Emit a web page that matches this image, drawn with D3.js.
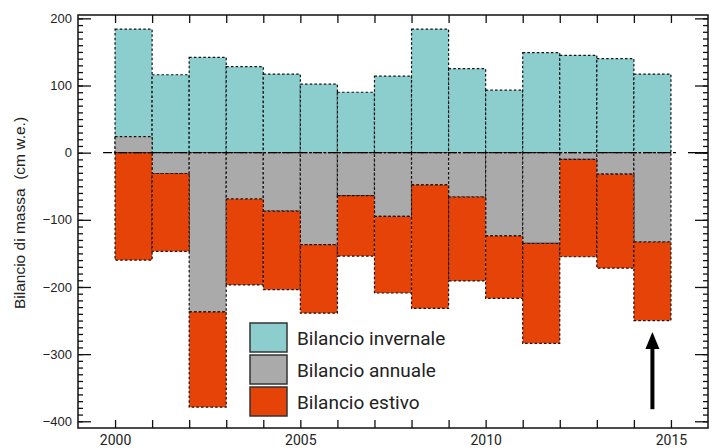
<!DOCTYPE html>
<html>
<head>
<meta charset="utf-8">
<script src="https://cdn.jsdelivr.net/npm/d3@7"></script>
<style>
  body { margin: 0; background: #fff; }
  svg { display: block; }
</style>
</head>
<body>
<div id="chart"></div>
<script>
// hydrological years (bar spans year -> year + 1)
const years = [2000, 2001, 2002, 2003, 2004, 2005, 2006, 2007, 2008, 2009, 2010, 2011, 2012, 2013, 2014];
// mass balance, cm w.e.
const winter = [184, 116, 142, 128, 117, 102, 90, 114, 184, 125, 93, 149, 145, 140, 117];
const annual = [24, -31, -237, -69, -87, -137, -64, -95, -48, -66, -124, -135, -10, -32, -133];
const summer = [-160, -147, -379, -197, -204, -239, -154, -209, -232, -191, -217, -284, -155, -172, -250];

const seriesNames = ["Bilancio invernale", "Bilancio annuale", "Bilancio estivo"];
const seriesColors = ["#8ccdce", "#aaaaaa", "#e64309"];
const xLabels = [2000, 2005, 2010, 2015];
const yLabels = [-400, -300, -200, -100, 0, 100, 200];
const arrowYear = 2014.5;
const arrowFrom = -382;
const arrowTo = -267;

const dims = {
  width: 716,
  height: 448,
  margin: { top: 15, right: 8, bottom: 20, left: 78 },
};
dims.boundedWidth = dims.width - dims.margin.left - dims.margin.right;
dims.boundedHeight = dims.height - dims.margin.top - dims.margin.bottom;

const svg = d3.select("#chart").append("svg")
  .attr("width", dims.width)
  .attr("height", dims.height);

const bounds = svg.append("g")
  .attr("transform", `translate(${dims.margin.left},${dims.margin.top})`);

const xScale = d3.scaleLinear()
  .domain([1999, 2016])
  .range([0, dims.boundedWidth]);

const yScale = d3.scaleLinear()
  .domain([-410, 205])
  .range([dims.boundedHeight, 0]);

const data = years.map((y, i) => ({ year: y, w: winter[i], a: annual[i], s: summer[i] }));

const dash = "2.5,2.2";
function drawBars(cls, color, top, bottom) {
  bounds.append("g").attr("class", cls)
    .selectAll("rect").data(data).join("rect")
    .attr("x", d => xScale(d.year))
    .attr("width", d => xScale(d.year + 1) - xScale(d.year))
    .attr("y", d => yScale(Math.max(top(d), bottom(d))))
    .attr("height", d => Math.abs(yScale(top(d)) - yScale(bottom(d))))
    .attr("fill", color)
    .attr("stroke", "#111")
    .attr("stroke-width", 1.2)
    .attr("stroke-dasharray", dash);
}

drawBars("winter", seriesColors[0], d => d.w, d => 0);
drawBars("annual", seriesColors[1], d => d.a, d => 0);
drawBars("summer", seriesColors[2], d => Math.min(0, d.a), d => d.s);

// zero line
bounds.append("line")
  .attr("x1", xScale(2000) - 12).attr("x2", xScale(2015) + 5)
  .attr("y1", yScale(0)).attr("y2", yScale(0))
  .attr("stroke", "#000").attr("stroke-width", 1.3)
  .attr("stroke-dasharray", "9,2,2,2");
bounds.append("line")
  .attr("x1", dims.boundedWidth - 20).attr("x2", dims.boundedWidth)
  .attr("y1", yScale(0)).attr("y2", yScale(0))
  .attr("stroke", "#000").attr("stroke-width", 1.3);

// axes
const yMinor = d3.range(-400, 201, 10);
const tickFont = "'Liberation Sans', Arial, sans-serif";

bounds.append("g")
  .call(d3.axisLeft(yScale).tickValues(yMinor).tickSize(-5).tickFormat(""));
bounds.append("g")
  .call(d3.axisLeft(yScale).tickValues(yLabels).tickSize(-13).tickPadding(6))
  .attr("font-family", tickFont)
  .attr("font-size", 13);

bounds.append("g")
  .attr("transform", `translate(${dims.boundedWidth},0)`)
  .call(d3.axisRight(yScale).tickValues(yMinor).tickSize(-5).tickFormat(""));
bounds.append("g")
  .attr("transform", `translate(${dims.boundedWidth},0)`)
  .call(d3.axisRight(yScale).tickValues(yLabels).tickSize(-13).tickFormat(""));

const yearTicks = d3.range(2000, 2016);
bounds.append("g")
  .attr("transform", `translate(0,${dims.boundedHeight})`)
  .call(d3.axisBottom(xScale).tickValues(yearTicks).tickSize(-8)
    .tickFormat(d => xLabels.includes(d) ? d : "").tickPadding(7))
  .attr("font-family", "Roboto, sans-serif")
  .attr("font-size", 14);
bounds.append("g")
  .call(d3.axisTop(xScale).tickValues(yearTicks).tickSize(-8).tickFormat(""));

bounds.selectAll(".domain").remove();
bounds.selectAll(".tick line").attr("stroke", "#111").attr("stroke-width", 1.3);
bounds.selectAll(".tick text").attr("fill", "#222");

// frame
bounds.append("rect")
  .attr("width", dims.boundedWidth)
  .attr("height", dims.boundedHeight)
  .attr("fill", "none")
  .attr("stroke", "#111")
  .attr("stroke-width", 1.5);

// y label
svg.append("text")
  .attr("transform", `translate(25,213) rotate(-90)`)
  .attr("text-anchor", "middle")
  .attr("font-family", tickFont)
  .attr("font-size", 15.5)
  .attr("fill", "#222")
  .attr("xml:space", "preserve")
  .style("white-space", "pre")
  .text("Bilancio di massa  (cm w.e.)");

// legend
const legend = svg.append("g").attr("transform", "translate(250,323)");
seriesNames.forEach((name, i) => {
  const g = legend.append("g").attr("transform", `translate(0,${i * 32})`);
  g.append("rect")
    .attr("width", 37).attr("height", 29)
    .attr("fill", seriesColors[i])
    .attr("stroke", "#333")
    .attr("stroke-width", 1.5);
  g.append("text")
    .attr("x", 47).attr("y", 15)
    .attr("dy", "0.35em")
    .attr("font-family", "Roboto, sans-serif")
    .attr("font-size", 19)
    .attr("fill", "#222")
    .text(name);
});

// arrow
const ax = xScale(arrowYear);
const tipY = yScale(arrowTo);
bounds.append("line")
  .attr("x1", ax).attr("x2", ax)
  .attr("y1", yScale(arrowFrom)).attr("y2", tipY + 12)
  .attr("stroke", "#000").attr("stroke-width", 4);
bounds.append("path")
  .attr("d", `M${ax},${tipY} L${ax - 7},${tipY + 17} L${ax + 7},${tipY + 17} Z`)
  .attr("fill", "#000");
</script>
</body>
</html>
